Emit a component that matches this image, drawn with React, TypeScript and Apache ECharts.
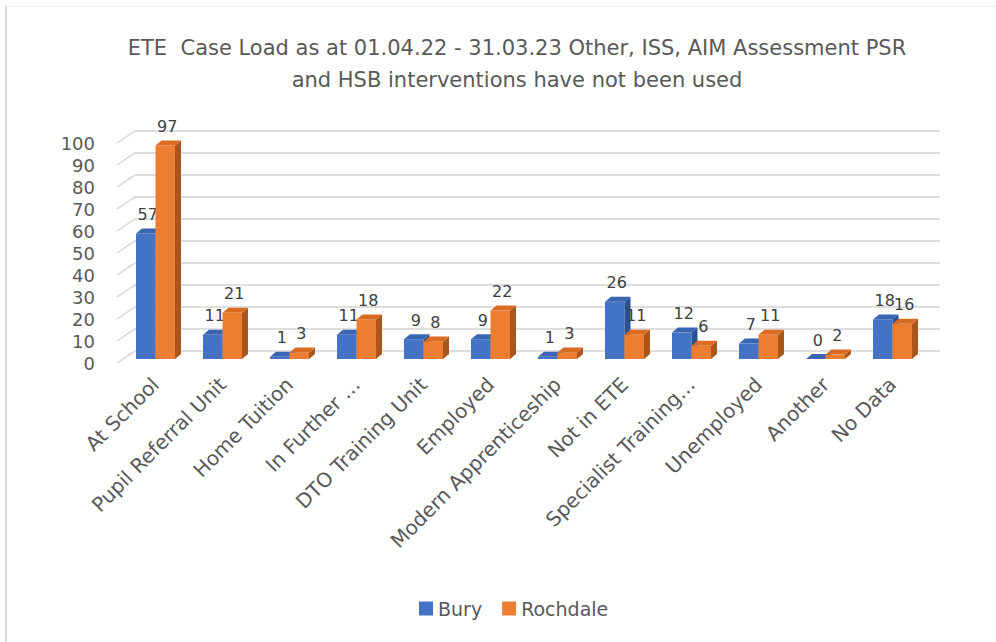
import React, { useEffect, useRef } from "react";
import * as echarts from "echarts";

const categories = [
  "At School",
  "Pupil Referral Unit",
  "Home Tuition",
  "In Further …",
  "DTO Training Unit",
  "Employed",
  "Modern Apprenticeship",
  "Not in ETE",
  "Specialist Training…",
  "Unemployed",
  "Another",
  "No Data",
];
const buryValues = [57, 11, 1, 11, 9, 9, 1, 26, 12, 7, 0, 18];
const rochdaleValues = [97, 21, 3, 18, 8, 22, 3, 11, 6, 11, 2, 16];
const yTicks = [0, 10, 20, 30, 40, 50, 60, 70, 80, 90, 100];
const titleText =
  "ETE  Case Load as at 01.04.22 - 31.03.23 Other, ISS, AIM Assessment PSR\nand HSB interventions have not been used";

const FONT = "'DejaVu Sans', 'Open Sans', sans-serif";
const BAR_W = 19.5;
const DX = 6;
const DY = -5;
const BAR_SHIFT = -4;

function makeBarRender(side: "left" | "right", colors: { front: string; top: string; side: string }) {
  return (params: any, api: any) => {
    const idx = api.value(0);
    const val = api.value(1);
    const top = api.coord([idx, val]);
    const base = api.coord([idx, 0]);
    const cx = top[0];
    const x0 = side === "left" ? cx - BAR_W : cx;
    const x1 = x0 + BAR_W;
    const yt = top[1] + BAR_SHIFT;
    const yb = base[1] + BAR_SHIFT;
    return {
      type: "group",
      children: [
        {
          type: "rect",
          shape: { x: x0, y: yt, width: BAR_W, height: Math.max(yb - yt, 0) },
          style: { fill: colors.front },
        },
        {
          type: "polygon",
          shape: {
            points: [
              [x1, yt],
              [x1 + DX, yt + DY],
              [x1 + DX, yb + DY],
              [x1, yb],
            ],
          },
          style: { fill: colors.side },
        },
        {
          type: "polygon",
          shape: {
            points: [
              [x0, yt],
              [x1, yt],
              [x1 + DX, yt + DY],
              [x0 + DX, yt + DY],
            ],
          },
          style: { fill: colors.top },
        },
        {
          type: "text",
          style: {
            text: String(val),
            x: (x0 + x1) / 2 + 2,
            y: yt - 11,
            align: "center",
            verticalAlign: "bottom",
            fontSize: 16,
            fontFamily: FONT,
            fill: "#404040",
          },
        },
      ],
    };
  };
}

function gridRender(params: any, api: any) {
  const v = api.value(1);
  const cs = params.coordSys;
  const y = api.coord([0, v])[1];
  return {
    type: "polyline",
    shape: {
      points: [
        [cs.x - 5, y],
        [cs.x + 13, y - 12],
        [cs.x + cs.width + 14, y - 12],
      ],
    },
    style: { stroke: "#DEDEDE", lineWidth: 2, fill: "none" },
  };
}

export default function App() {
  const ref = useRef<HTMLDivElement>(null);
  useEffect(() => {
    if (!ref.current) return;
    const chart = echarts.init(ref.current, undefined, { renderer: "svg" });
    chart.setOption({
      animation: false,
      color: ["#4472C4", "#ED7D31"],
      title: {
        text: titleText,
        left: 512,
        top: 27,
        textAlign: "center",
        textStyle: {
          fontFamily: FONT,
          fontSize: 21,
          fontWeight: "normal",
          color: "#595959",
          lineHeight: 32,
        },
      },
      legend: {
        data: [
          { name: "Bury", icon: "rect" },
          { name: "Rochdale", icon: "rect" },
        ],
        left: 414,
        top: 594,
        itemWidth: 14,
        itemHeight: 14,
        itemGap: 20,
        textStyle: { fontFamily: FONT, fontSize: 19, color: "#595959" },
      },
      grid: { left: 122, width: 804, top: 143, height: 220, containLabel: false },
      xAxis: {
        type: "category",
        data: categories,
        axisLine: { show: false },
        axisTick: { show: false },
        splitLine: { show: false },
        axisLabel: {
          rotate: 45,
          interval: 0,
          margin: 18,
          fontFamily: FONT,
          fontSize: 20,
          color: "#595959",
        },
      },
      yAxis: {
        type: "value",
        min: 0,
        max: 100,
        interval: 10,
        axisLine: { show: false },
        axisTick: { show: false },
        splitLine: { show: false },
        axisLabel: {
          margin: 27,
          fontFamily: FONT,
          fontSize: 18,
          lineHeight: 20,
          color: "#595959",
        },
      },
      series: [
        {
          name: "grid",
          type: "custom",
          z: 1,
          silent: true,
          renderItem: gridRender,
          data: yTicks.map((v) => [0, v]),
        },
        {
          name: "Bury",
          type: "custom",
          z: 2,
          itemStyle: { color: "#4472C4" },
          renderItem: makeBarRender("left", { front: "#4472C4", top: "#3A65B3", side: "#2C5190" }),
          data: buryValues.map((v, i) => [i, v]),
        },
        {
          name: "Rochdale",
          type: "custom",
          z: 3,
          itemStyle: { color: "#ED7D31" },
          renderItem: makeBarRender("right", { front: "#ED7D31", top: "#DA6C22", side: "#A9561C" }),
          data: rochdaleValues.map((v, i) => [i, v]),
        },
      ],
    });
    return () => chart.dispose();
  }, []);

  return (
    <div style={{ position: "fixed", left: 0, top: 0, width: 996, height: 642, background: "#fff", overflow: "hidden" }}>
      <div
        style={{
          position: "absolute",
          left: 5,
          top: 6,
          width: 1200,
          height: 800,
          borderLeft: "2px solid #D9D9D9",
          borderTop: "1px solid #F0F0F0",
        }}
      />
      <div ref={ref} style={{ position: "absolute", left: 0, top: 0, width: 996, height: 642 }} />
    </div>
  );
}
